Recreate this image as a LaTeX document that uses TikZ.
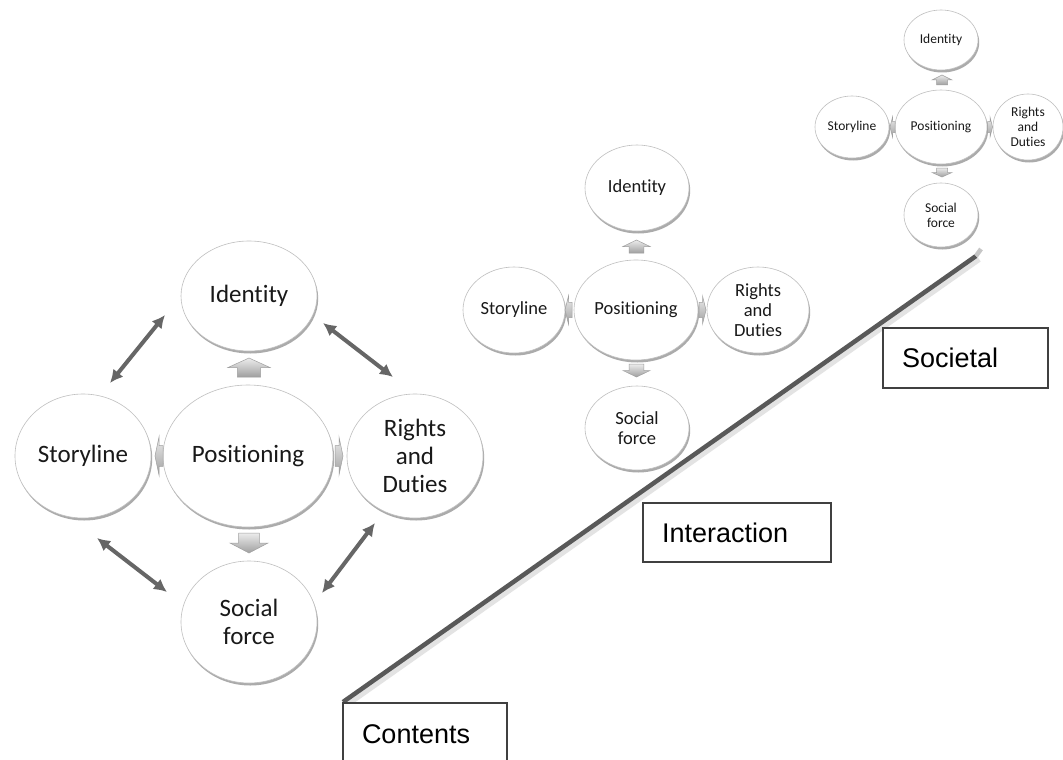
\documentclass[tikz,border=0pt]{standalone}
\usepackage{fontspec}
\setmainfont{Carlito}[Ligatures=NoCommon]
\newfontfamily\arialf{Liberation Sans}
\usetikzlibrary{shapes.geometric,shadows,arrows.meta}

\tikzset{
  circ/.style={ellipse, draw=gray!50, line width=0.6pt, fill=white, inner sep=0pt,
    align=center, text=black!90,
    drop shadow={shadow xshift=1.2pt, shadow yshift=-2.5pt, opacity=0.5, fill=gray!70!black}},
  fL/.style={font=\fontsize{25}{28}\selectfont},
  fM/.style={font=\fontsize{18.5}{20}\selectfont},
  fS/.style={font=\fontsize{13.5}{15}\selectfont},
  dbl/.style={{Latex[length=13pt,width=13pt]}-{Latex[length=13pt,width=13pt]},
    line width=4pt, draw=black!60},
  boxst/.style={rectangle, draw=black!75, line width=1.1pt, fill=white,
    inner xsep=19pt, inner ysep=0pt, align=left, text=black,
    font=\arialf\fontsize{27}{30}\selectfont},
  blockarr/.style={top color=gray!15, bottom color=gray!75, draw=gray!75, line width=0.5pt}
}
% block arrow: centre (#1,#2); width vector (#3,#4); length vector (#5,#6) pointing to the tip
\newcommand\barr[6]{\begin{scope}[shift={(#1,#2)},x={(#3pt,#4pt)},y={(#5pt,#6pt)}]
  \path[blockarr] (0,1) -- (1,0) -- (0.55,0) -- (0.55,-1) -- (-0.55,-1) -- (-0.55,0) -- (-1,0) -- cycle;
  \end{scope}}

\begin{document}
\begin{tikzpicture}[x=1pt,y=-1pt]
\clip (0,0) rectangle (1063,760);
\fill[white] (0,0) rectangle (1063,760);

% ---------- diagonal line ----------
\coordinate (lineA) at (343,702);
\coordinate (lineB) at (976,256);
\coordinate (lineC) at (981,249);
\draw[line width=6pt, gray!22] ([shift={(3,3)}]lineA) -- ([shift={(3,3)}]lineB);
\draw[line width=4.5pt, black!65] (lineA) -- (lineB);
\draw[line width=4.5pt, gray!45] (lineB) -- (lineC);

% ---------- left cluster ----------
\node[circ, fL, minimum width=136pt, minimum height=110pt] (identL) at (249,296) {\raisebox{3pt}{Identity}};
\node[circ, fL, minimum width=170pt, minimum height=142pt] (posL) at (248,456) {Positioning};
\node[circ, fL, minimum width=136pt, minimum height=124pt] (storyL) at (83,456) {Storyline};
\node[circ, fL, minimum width=136pt, minimum height=124pt] (rightsL) at (415,456) {Rights\\and\\Duties};
\node[circ, fL, minimum width=136pt, minimum height=122pt] (socialL) at (249,622) {Social\\force};

\barr{249}{367.5}{21}{0}{0}{9.5}
\barr{249}{543}{19}{0}{0}{-10}
\barr{159}{456}{0}{19}{-4}{0}
\barr{339}{456}{0}{19}{4}{0}

\coordinate (a1s) at (110,383); \coordinate (a1e) at (165,315);
\coordinate (a2s) at (323,323); \coordinate (a2e) at (393,377);
\coordinate (a3s) at (97,538);  \coordinate (a3e) at (167,592);
\coordinate (a4s) at (322,593); \coordinate (a4e) at (375,523);
\draw[dbl] (a1s) -- (a1e);
\draw[dbl] (a2s) -- (a2e);
\draw[dbl] (a3s) -- (a3e);
\draw[dbl] (a4s) -- (a4e);

% ---------- middle cluster ----------
\node[circ, fM, minimum width=104pt, minimum height=86pt] (identM) at (637,188) {\raisebox{2pt}{Identity}};
\node[circ, fM, minimum width=124pt, minimum height=100pt] (posM) at (636,310) {Positioning};
\node[circ, fM, minimum width=102pt, minimum height=86pt] (storyM) at (514,310) {Storyline};
\node[circ, fM, minimum width=102pt, minimum height=86pt] (rightsM) at (758,310) {Rights\\and\\Duties};
\node[circ, fM, minimum width=104pt, minimum height=84pt] (socialM) at (637,428) {Social\\force};

\barr{636.5}{246.5}{13.5}{0}{0}{6.5}
\barr{636.5}{370.5}{13.5}{0}{0}{-6.5}
\barr{568.5}{310}{0}{14}{-3.5}{0}
\barr{702.5}{310}{0}{14}{3.5}{0}

% ---------- right cluster ----------
\node[circ, fS, minimum width=74pt, minimum height=60pt] (identR) at (941,40) {\raisebox{2pt}{Identity}};
\node[circ, fS, minimum width=92pt, minimum height=74pt] (posR) at (941,127) {Positioning};
\node[circ, fS, minimum width=74pt, minimum height=62pt] (storyR) at (852,127) {Storyline};
\node[circ, fS, minimum width=70pt, minimum height=66pt] (rightsR) at (1028,127) {Rights\\and\\Duties};
\node[circ, fS, minimum width=74pt, minimum height=64pt] (socialR) at (941,215) {Social\\force};

\barr{942}{80}{10}{0}{0}{5}
\barr{942}{172.5}{10}{0}{0}{-4.5}
\barr{892.5}{127}{0}{10}{-2.5}{0}
\barr{990}{127}{0}{10}{2.5}{0}

% ---------- boxes ----------
\node[boxst, text width=150pt, minimum height=59pt] (inter) at (737,532.5) {Interaction};
\node[boxst, text width=127pt, minimum height=60pt] (soc) at (965.5,358) {Societal};
\node[boxst, text width=126pt, minimum height=62pt] (cont) at (425,734) {Contents};
\end{tikzpicture}
\end{document}
